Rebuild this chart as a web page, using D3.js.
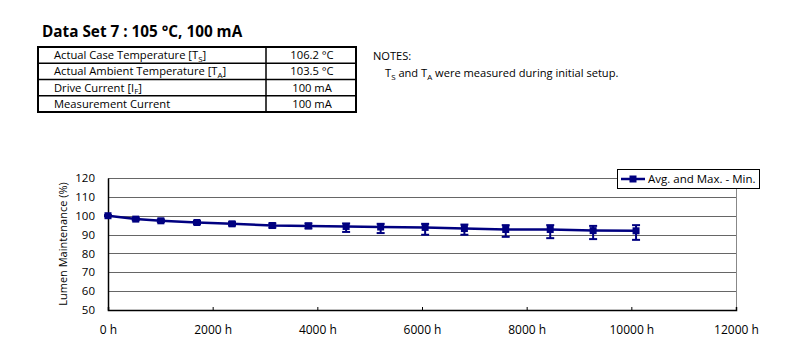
<!DOCTYPE html>
<html><head><meta charset="utf-8">
<script src="https://cdn.jsdelivr.net/npm/d3@7"></script>
<style>body{margin:0;background:#fff;}svg{display:block;font-family:"Open Sans",sans-serif;}</style>
</head><body>
<svg id="c" width="800" height="358"></svg>
<script>
const hours = [0, 530, 1010, 1700, 2370, 3140, 3830, 4550, 5210, 6060, 6810, 7600, 8450, 9270, 10090];
const avg   = [100, 98.2, 97.3, 96.4, 95.7, 94.8, 94.6, 94.3, 94.0, 93.8, 93.2, 92.7, 92.7, 92.1, 92.0];
const maxV  = [100.3, 98.8, 98.0, 97.2, 96.6, 95.9, 95.9, 95.9, 95.7, 95.7, 95.3, 95.0, 95.0, 94.6, 95.0];
const minV  = [99.7, 97.6, 96.6, 95.6, 94.8, 93.7, 93.3, 91.4, 90.8, 89.9, 89.9, 88.8, 88.1, 87.6, 87.2];
const xTicks = [0, 2000, 4000, 6000, 8000, 10000, 12000];
const yTicks = [50, 60, 70, 80, 90, 100, 110, 120];
const tableRows = [
  ["Actual Case Temperature [T", "S", "]", "106.2 °C"],
  ["Actual Ambient Temperature [T", "A", "]", "103.5 °C"],
  ["Drive Current [I", "F", "]", "100 mA"],
  ["Measurement Current", "", "", "100 mA"]
];
const titleText = "Data Set 7 : 105 °C, 100 mA";
const legendLabel = "Avg. and Max. - Min.";
const color = "#000080";

const svg = d3.select("#c");

// Title
svg.append("text").attr("x", 42).attr("y", 37).attr("font-size", 15.3).attr("font-weight", "bold").attr("fill", "#000").text(titleText);

// Table
const tx0 = 38, tx1 = 266, tx2 = 356, ty0 = 47, rh = 16.25;
const fs = 11.2;
const tg = svg.append("g");
tableRows.forEach((r, i) => {
  const y = ty0 + i * rh;
  const t = tg.append("text").attr("x", 54).attr("y", y + rh / 2 + 4).attr("font-size", fs).attr("fill", "#000");
  t.append("tspan").text(r[0]);
  if (r[1]) {
    t.append("tspan").attr("font-size", 8).attr("dy", 2.5).text(r[1]);
    t.append("tspan").attr("dy", -2.5).text(r[2]);
  }
  tg.append("text").attr("x", (tx1 + tx2) / 2 + 1).attr("y", y + rh / 2 + 4).attr("text-anchor", "middle").attr("font-size", fs).attr("fill", "#000").text(r[3]);
  if (i > 0) tg.append("line").attr("x1", tx0).attr("x2", tx2).attr("y1", y).attr("y2", y).attr("stroke", "#000").attr("stroke-width", 1.5);
});
tg.append("line").attr("x1", tx1).attr("x2", tx1).attr("y1", ty0).attr("y2", ty0 + 4 * rh).attr("stroke", "#000").attr("stroke-width", 1.5);
tg.append("rect").attr("x", tx0).attr("y", ty0).attr("width", tx2 - tx0).attr("height", 4 * rh).attr("fill", "none").attr("stroke", "#000").attr("stroke-width", 2);

// Notes
svg.append("text").attr("x", 373).attr("y", 60).attr("font-size", 11.1).attr("fill", "#000").text("NOTES:");
const n = svg.append("text").attr("x", 385).attr("y", 77).attr("font-size", 11.1).attr("fill", "#000");
n.append("tspan").text("T");
n.append("tspan").attr("font-size", 8).attr("dy", 2.5).text("S");
n.append("tspan").attr("dy", -2.5).text(" and T");
n.append("tspan").attr("font-size", 8).attr("dy", 2.5).text("A");
n.append("tspan").attr("dy", -2.5).text(" were measured during initial setup.");

// Chart
const L = 108, R = 736, T = 178, B = 310;
const x = d3.scaleLinear().domain([0, 12000]).range([L, R]);
const y = d3.scaleLinear().domain([50, 120]).range([B, T]);

const grid = svg.append("g");
yTicks.filter(v => v > 50).forEach(v => {
  grid.append("line").attr("x1", L).attr("x2", R).attr("y1", Math.round(y(v)) + 0.5).attr("y2", Math.round(y(v)) + 0.5).attr("stroke", "#666").attr("stroke-width", 1);
});
// right border
svg.append("line").attr("x1", R + 0.5).attr("x2", R + 0.5).attr("y1", T).attr("y2", B).attr("stroke", "#888").attr("stroke-width", 1);

const xAxis = svg.append("g").attr("transform", `translate(0,${B})`)
  .call(d3.axisBottom(x).tickValues(xTicks).tickSize(-3).tickPadding(15).tickFormat(d => d + " h"));
xAxis.select(".domain").attr("stroke", "#000").attr("stroke-width", 1.5);
xAxis.selectAll(".tick line").attr("stroke", "#000");
xAxis.selectAll("text").attr("font-size", 12).attr("fill", "#000").attr("font-family", "Open Sans");

const yAxis = svg.append("g").attr("transform", `translate(${L},0)`)
  .call(d3.axisLeft(y).tickValues(yTicks).tickSize(0).tickPadding(13));
yAxis.select(".domain").attr("stroke", "#000").attr("stroke-width", 1.5);
yAxis.selectAll("text").attr("font-size", 11.5).attr("fill", "#000").attr("font-family", "Open Sans");

svg.append("text").attr("transform", `translate(67,${(T + B) / 2}) rotate(-90)`).attr("text-anchor", "middle")
  .attr("font-size", 11).attr("fill", "#000").text("Lumen Maintenance (%)");

// Series
const data = hours.map((h, i) => ({h, a: avg[i], mx: maxV[i], mn: minV[i]}));
const eb = svg.append("g").attr("stroke", color).attr("stroke-width", 2);
data.forEach(d => {
  eb.append("line").attr("x1", x(d.h)).attr("x2", x(d.h)).attr("y1", y(d.mx)).attr("y2", y(d.mn));
  eb.append("line").attr("x1", x(d.h) - 4).attr("x2", x(d.h) + 4).attr("y1", y(d.mx)).attr("y2", y(d.mx));
  eb.append("line").attr("x1", x(d.h) - 4).attr("x2", x(d.h) + 4).attr("y1", y(d.mn)).attr("y2", y(d.mn));
});
svg.append("path").datum(data).attr("fill", "none").attr("stroke", color).attr("stroke-width", 2.5)
  .attr("d", d3.line().x(d => x(d.h)).y(d => y(d.a)));
svg.append("g").selectAll("rect").data(data).join("rect")
  .attr("x", d => x(d.h) - 3.5).attr("y", d => y(d.a) - 3.5).attr("width", 7).attr("height", 7).attr("fill", color);

// Legend
const lg = svg.append("g");
lg.append("rect").attr("x", 617.5).attr("y", 169.5).attr("width", 142).attr("height", 19).attr("fill", "#fff").attr("stroke", "#000").attr("stroke-width", 1);
lg.append("line").attr("x1", 621).attr("x2", 645).attr("y1", 179).attr("y2", 179).attr("stroke", color).attr("stroke-width", 2.5);
lg.append("rect").attr("x", 629.5).attr("y", 175.5).attr("width", 7).attr("height", 7).attr("fill", color);
lg.append("text").attr("x", 648).attr("y", 183).attr("font-size", 11.5).attr("fill", "#000").text(legendLabel);
</script>
</body></html>
